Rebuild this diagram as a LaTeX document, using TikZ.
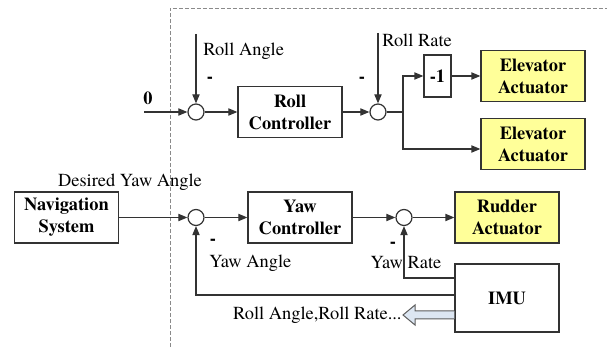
\documentclass[tikz,border=0pt]{standalone}
\usepackage{fontspec}
\setmainfont{texgyretermes}[Extension=.otf,UprightFont=*-regular,BoldFont=*-bold]
\usetikzlibrary{arrows.meta,positioning,calc}
\definecolor{Ink}{HTML}{333333}
\definecolor{Frame}{HTML}{8A8A8A}
\definecolor{Lemon}{HTML}{FFFF99}
\definecolor{Mist}{HTML}{DCE6F2}
\tikzset{
  arr/.style={-{Triangle[length=4.5pt,width=3.6pt]},line width=0.6pt,draw=Ink},
  wire/.style={line width=0.6pt,draw=Ink},
  boxstyle/.style={draw=Ink,line width=0.6pt,fill=white,minimum width=52pt,minimum height=25.5pt,align=center,inner sep=1pt,font=\fontsize{9.2}{11}\selectfont\bfseries},
  yellowbox/.style={boxstyle,fill=Lemon},
  sumnode/.style={circle,draw=Ink,line width=0.6pt,fill=white,minimum size=8pt,inner sep=0pt},
  lbl/.style={inner sep=0pt,font=\fontsize{9.2}{11}\selectfont},
  neglbl/.style={inner sep=0pt,font=\fontsize{9.2}{11}\selectfont\bfseries},
  fatarr/.style={draw=Ink!80,line width=0.5pt,fill=Mist},
  frame/.style={draw=Frame,line width=0.4pt,dash pattern=on 2pt off 1pt}
}
\begin{document}
\begin{tikzpicture}[x=0.5pt,y=-0.5pt]
  \useasboundingbox (0,0) rectangle (607,347);
  \draw[frame] (170,347) -- (170,8) -- (607,8);
  % roll loop
  \node[sumnode] (s1) at (196,112) {};
  \node[boxstyle] (roll) at (290,112) {Roll\\Controller};
  \node[sumnode] (s2) at (378,112) {};
  \coordinate (br) at (403,112);
  \node[boxstyle,minimum width=13.5pt,minimum height=21pt] (neg) at (437.5,76) {-1};
  \node[yellowbox] (elev1) at (533,76) {Elevator\\Actuator};
  \node[yellowbox] (elev2) at (533,144) {Elevator\\Actuator};
  \coordinate (in0) at (144,112);
  \coordinate (rollang) at (196,34);
  \coordinate (rollrate) at (378,33);
  \node[neglbl] (zero) at (148,98) {0};
  \node[lbl,anchor=west] (rollangtxt) at (203,51) {Roll Angle};
  \node[lbl,anchor=west] (rollratetxt) at (382,40) {Roll Rate};
  \node[neglbl] (m1) at (210,80) {-};
  \node[neglbl] (m2) at (362,80) {-};
  \draw[arr] (in0) -- (s1);
  \draw[arr] (rollang) -- (s1);
  \draw[arr] (s1) -- (roll);
  \draw[arr] (roll) -- (s2);
  \draw[arr] (rollrate) -- (s2);
  \draw[wire] (s2) -- (br);
  \draw[arr] (br) |- (neg);
  \draw[arr] (neg) -- (elev1);
  \draw[arr] (br) |- ([yshift=-2.5pt]elev2.west);
  % yaw loop
  \node[boxstyle] (nav) at (66.5,217.5) {Navigation\\System};
  \node[sumnode] (s3) at (196,217.5) {};
  \node[boxstyle] (yaw) at (300,217.5) {Yaw\\Controller};
  \node[sumnode] (s4) at (404,217.5) {};
  \node[yellowbox] (rud) at (507,217.5) {Rudder\\Actuator};
  \node[boxstyle,minimum height=34pt] (imu) at (507,298) {IMU};
  \node[lbl] (desired) at (130,182) {Desired Yaw Angle};
  \node[neglbl] (m3) at (213,242) {-};
  \node[neglbl] (m4) at (393,245) {-};
  \node[lbl,anchor=west] (yawangtxt) at (209,263) {Yaw Angle};
  \node[lbl] (yawratetxt) at (406,263) {Yaw Rate};
  \draw[arr] (nav) -- (s3);
  \draw[arr] (s3) -- (yaw);
  \draw[arr] (yaw) -- (s4);
  \draw[arr] (s4) -- (rud);
  \draw[arr] ([yshift=10pt]imu.west) -| (s4);
  \draw[arr] ([yshift=1.5pt]imu.west) -| (s3);
  % IMU data out
  \coordinate (tip) at (403,315);
  \draw[fatarr] ($(imu.west|-tip)+(0,-4)$) -- ($(tip)+(12,-4)$) -- ($(tip)+(12,-10)$)
    -- (tip) -- ($(tip)+(12,10)$) -- ($(tip)+(12,4)$) -- ($(imu.west|-tip)+(0,4)$);
  \node[lbl,anchor=east] (imutxt) at (402,315) {Roll Angle,Roll Rate...};
\end{tikzpicture}
\end{document}
